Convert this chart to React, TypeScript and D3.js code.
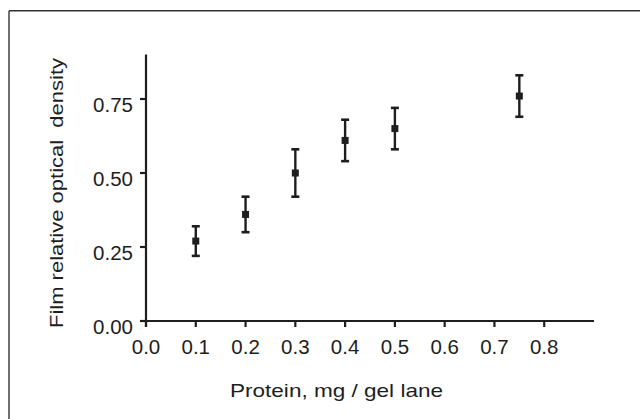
import React from "react";
import * as d3 from "d3";

const doses = [0.1, 0.2, 0.3, 0.4, 0.5, 0.75];
const means = [0.27, 0.36, 0.5, 0.61, 0.65, 0.76];
const upper = [0.32, 0.42, 0.58, 0.68, 0.72, 0.83];
const lower = [0.22, 0.3, 0.42, 0.54, 0.58, 0.69];
const xTicks = [0, 0.1, 0.2, 0.3, 0.4, 0.5, 0.6, 0.7, 0.8];
const yTicks = [0, 0.25, 0.5, 0.75];
const xTitle = "Protein, mg / gel lane";
const yTitle = "Film relative optical\u00a0 density";

export default function App() {
  const W = 640, H = 419;
  const x = d3.scaleLinear().domain([0, 0.9]).range([146, 594]);
  const y = d3.scaleLinear().domain([0, 0.9]).range([321, 54.6]);
  const ink = "#1e1e1e";
  const font = "'Liberation Sans', Arial, Helvetica, sans-serif";
  return (
    <svg width={W} height={H} style={{ position: "absolute", left: 0, top: 0, background: "#fff" }}>
      <rect x={0} y={0} width={W} height={H} fill="#fff" />
      {/* frame: top & left */}
      <line x1={9} y1={10.7} x2={W} y2={10.7} stroke="#333" strokeWidth={1.4} />
      <line x1={9} y1={10.7} x2={9} y2={H} stroke="#333" strokeWidth={1.4} />

      {/* axes */}
      <line x1={x(0)} y1={y(0.9)} x2={x(0)} y2={y(0) + 6} stroke={ink} strokeWidth={2.2} />
      <line x1={x(0) - 6} y1={y(0)} x2={x(0.9)} y2={y(0)} stroke={ink} strokeWidth={2.2} />
      {yTicks.map((t) => (
        <g key={"y" + t}>
          <line x1={x(0) - 6} x2={x(0)} y1={y(t)} y2={y(t)} stroke={ink} strokeWidth={2.2} />
          <text x={133} y={y(t) + 12.5} textAnchor="end" fontFamily={font} fontSize={20.5} fill={ink}>
            {d3.format(".2f")(t)}
          </text>
        </g>
      ))}
      {xTicks.map((t) => (
        <g key={"x" + t}>
          <line x1={x(t)} x2={x(t)} y1={y(0)} y2={y(0) + 6} stroke={ink} strokeWidth={2.2} />
          <text x={x(t)} y={354} textAnchor="middle" fontFamily={font} fontSize={20.5} fill={ink}>
            {d3.format(".1f")(t)}
          </text>
        </g>
      ))}

      {/* error bars */}
      {doses.map((d, i) => (
        <g key={"p" + d}>
          <line x1={x(d)} x2={x(d)} y1={y(upper[i])} y2={y(lower[i])} stroke={ink} strokeWidth={2.4} />
          <line x1={x(d) - 4} x2={x(d) + 4} y1={y(upper[i])} y2={y(upper[i])} stroke={ink} strokeWidth={2.6} />
          <line x1={x(d) - 4} x2={x(d) + 4} y1={y(lower[i])} y2={y(lower[i])} stroke={ink} strokeWidth={2.6} />
          <rect x={x(d) - 3.5} y={y(means[i]) - 3.5} width={7} height={7} fill={ink} />
        </g>
      ))}

      <text
        x={230}
        y={397}
        fontFamily={font}
        fontSize={19}
        fill={ink}
        textLength={213}
        lengthAdjust="spacingAndGlyphs"
      >
        {xTitle}
      </text>
      <text
        transform={`translate(62.5, 328) rotate(-90)`}
        fontFamily={font}
        fontSize={19}
        fill={ink}
        textLength={270}
        lengthAdjust="spacingAndGlyphs"
      >
        {yTitle}
      </text>
    </svg>
  );
}
